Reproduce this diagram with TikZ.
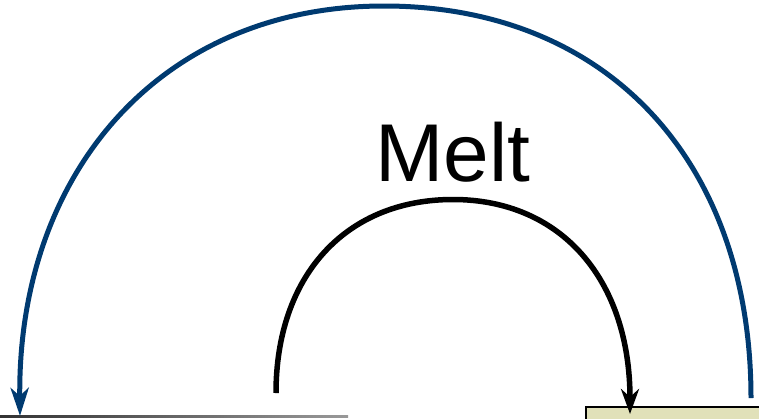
\documentclass[tikz,border=0pt]{standalone}
\usepackage{fontspec}
\setmainfont{Liberation Sans}
\usetikzlibrary{arrows.meta}
\definecolor{arcnavy}{RGB}{0,58,112}
\definecolor{boxkhaki}{RGB}{225,225,185}
\begin{document}
\begin{tikzpicture}[x=1pt,y=-1pt,
  blueline/.style={draw=arcnavy,line width=5pt,-{Stealth[length=28pt,width=18pt,inset=8pt]}},
  blackline/.style={draw=black,line width=5.5pt,-{Stealth[length=25pt,width=18pt,inset=8pt]}},
  meltlabel/.style={anchor=base,inner sep=0pt,font=\fontsize{82}{82}\selectfont},
  boxstyle/.style={draw=black,line width=2.2pt,fill=boxkhaki}]
\useasboundingbox (0,0) rectangle (759,418);
\clip (0,0) rectangle (759,418);
% bottom left gray line
\shade[left color=black!80,right color=black!40] (0,415.5) rectangle (348,417.5);
% bottom right box
\node[boxstyle,minimum width=200pt,minimum height=40pt,anchor=north west,inner sep=0pt] (rbox) at (585,406) {};
% coordinates
\coordinate (bStart) at (751,398);
\coordinate (bTop) at (384,6);
\coordinate (bEnd) at (20,416);
\coordinate (kStart) at (276,393);
\coordinate (kTop) at (453,199.5);
\coordinate (kEnd) at (630,414);
% blue arc
\draw[blueline] (bStart) .. controls (751,163) and (609,6) .. (bTop)
  .. controls (159,6) and (17,175) .. (bEnd);
% black arc
\draw[blackline] (kStart) .. controls (276,277) and (344.5,199.5) .. (kTop)
  .. controls (561.5,199.5) and (630,280) .. (kEnd);
% label
\node[meltlabel] (melt) at (453,181) {Melt};
\end{tikzpicture}
\end{document}
